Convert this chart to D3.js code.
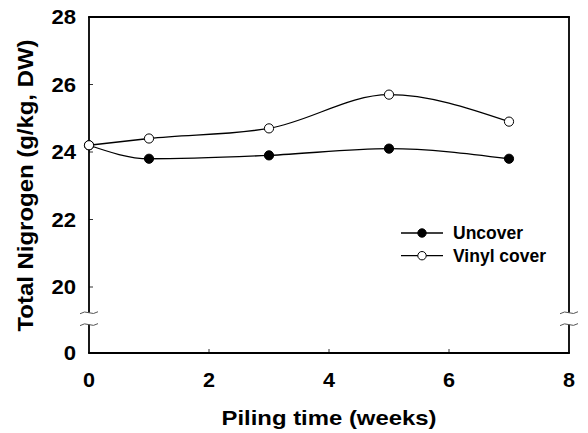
<!DOCTYPE html>
<html><head><meta charset="utf-8">
<script src="https://cdn.jsdelivr.net/npm/d3@7"></script>
<style>
body{margin:0;background:#fff}
text{font-family:"Liberation Sans",Arial,sans-serif;font-weight:bold;fill:#000}
</style></head>
<body><svg id="c" width="588" height="433"></svg>
<script>
const weeks=[0,1,3,5,7];
const uncover=[24.2,23.8,23.9,24.1,23.8];
const vinyl=[24.2,24.4,24.7,25.7,24.9];
const xTicks=[0,2,4,6,8];
const yTicks=[0,20,22,24,26,28];
const yBreak=[8.6,12.2];
const seriesNames=["Uncover","Vinyl cover"];

const svg=d3.select("#c");
const L=89,R=569,T=17,B=353;
const x=d3.scaleLinear().domain([0,8]).range([L,R]);
const y=d3.scaleLinear().domain([0,20,28]).range([B,287,T]);

// ticks inward
const g=svg.append("g");
xTicks.filter(d=>d>0&&d<8).forEach(d=>{
  g.append("line").attr("x1",x(d)).attr("x2",x(d)).attr("y1",B).attr("y2",B-4).attr("stroke","#333").attr("stroke-width",1);
});
yTicks.filter(d=>d>0&&d<28).forEach(d=>{
  g.append("line").attr("x1",L).attr("x2",L+4).attr("y1",y(d)).attr("y2",y(d)).attr("stroke","#333").attr("stroke-width",1);
});
// frame with breaks
const fw=1.8;
[L,R].forEach(xx=>{
  g.append("line").attr("x1",xx).attr("x2",xx).attr("y1",T).attr("y2",y(yBreak[1])).attr("stroke","#000").attr("stroke-width",fw);
  g.append("line").attr("x1",xx).attr("x2",xx).attr("y1",y(yBreak[0])).attr("y2",B).attr("stroke","#000").attr("stroke-width",fw);
  yBreak.forEach(v=>{
    const yy=y(v);
    g.append("path").attr("d",`M${xx-9},${yy+1} q4.5,-3 9,-1 q4.5,2 9,-1`).attr("fill","none").attr("stroke","#555").attr("stroke-width",1);
  });
});
g.append("line").attr("x1",L-fw/2).attr("x2",R+fw/2).attr("y1",T).attr("y2",T).attr("stroke","#000").attr("stroke-width",fw);
g.append("line").attr("x1",L-fw/2).attr("x2",R+fw/2).attr("y1",B).attr("y2",B).attr("stroke","#000").attr("stroke-width",fw);

// tick labels
xTicks.forEach(d=>{
  const s=String(d);
  svg.append("text").attr("x",x(d)).attr("y",387).attr("text-anchor","middle")
    .attr("font-size",20).attr("textLength",12*s.length).attr("lengthAdjust","spacingAndGlyphs").text(s);
});
yTicks.forEach(d=>{
  const s=String(d);
  svg.append("text").attr("x",76).attr("y",y(d)).attr("dy","0.36em").attr("text-anchor","end")
    .attr("font-size",20).attr("textLength",12.3*s.length).attr("lengthAdjust","spacingAndGlyphs").text(s);
});

// titles
svg.append("text").attr("x",(L+R)/2).attr("y",425).attr("text-anchor","middle")
  .attr("font-size",21).attr("textLength",215).attr("lengthAdjust","spacingAndGlyphs").text("Piling time (weeks)");
svg.append("text").attr("transform",`translate(33,${(T+B)/2+0.5}) rotate(-90)`).attr("text-anchor","middle")
  .attr("font-size",22).attr("textLength",292).attr("lengthAdjust","spacingAndGlyphs").text("Total Nigrogen (g/kg, DW)");

// lines
const line=d3.line().x(d=>x(d[0])).y(d=>y(d[1])).curve(d3.curveMonotoneX);
const sets=[uncover,vinyl];
sets.forEach((vals)=>{
  svg.append("path").attr("d",line(weeks.map((w,i)=>[w,vals[i]]))).attr("fill","none").attr("stroke","#000").attr("stroke-width",1.3);
});
sets.forEach((vals,k)=>{
  weeks.forEach((w,i)=>{
    svg.append("circle").attr("cx",x(w)).attr("cy",y(vals[i])).attr("r",4.6)
      .attr("fill",k===0?"#000":"#fff").attr("stroke","#000").attr("stroke-width",1);
  });
});

// legend
seriesNames.forEach((n,k)=>{
  const ly=233+k*22.7;
  svg.append("line").attr("x1",401).attr("x2",443).attr("y1",ly).attr("y2",ly).attr("stroke","#000").attr("stroke-width",1.3);
  svg.append("circle").attr("cx",422).attr("cy",ly).attr("r",4.2).attr("fill",k===0?"#000":"#fff").attr("stroke","#000").attr("stroke-width",1);
  svg.append("text").attr("x",453).attr("y",ly).attr("dy","0.36em").attr("font-size",17.5).text(n);
});
</script></body></html>
